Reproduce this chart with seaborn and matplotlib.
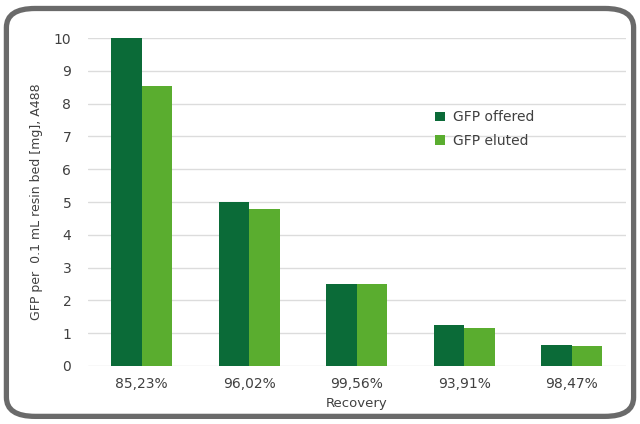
import matplotlib
matplotlib.use("Agg")
import matplotlib.pyplot as plt
import seaborn as sns
import pandas as pd
from matplotlib.patches import FancyBboxPatch, Patch

categories = ["85,23%", "96,02%", "99,56%", "93,91%", "98,47%"]
offered = [10.0, 5.0, 2.5, 1.25, 0.625]
eluted = [8.53, 4.79, 2.49, 1.16, 0.62]
series = ["GFP offered", "GFP eluted"]
colors = ["#0b6b38", "#5aad2f"]

df = pd.DataFrame({
    "Recovery": categories * 2,
    "value": offered + eluted,
    "series": [series[0]] * len(categories) + [series[1]] * len(categories),
})

sns.set_theme(style="white")
plt.rcParams['font.family'] = ['DejaVu Sans']

fig = plt.figure(figsize=(6.4, 4.24), dpi=100)
ax = fig.add_axes([0.1375, 0.137, 0.84, 0.773])

sns.barplot(data=df, x="Recovery", y="value", hue="series", palette=colors,
            width=0.57, saturation=1, ax=ax, legend=False, zorder=3,
            linewidth=0, edgecolor="none")

ax.set_ylim(0, 10)
ax.set_yticks(range(0, 11))
ax.yaxis.grid(True, color="#dcdcdc", linewidth=1, zorder=0)
ax.set_axisbelow(True)
for s in ax.spines.values():
    s.set_visible(False)
ax.tick_params(axis="both", length=0, labelsize=10, colors="#404040")
ax.tick_params(axis="x", pad=8)
ax.tick_params(axis="y", pad=12)
ax.set_xlabel("Recovery", fontsize=9.5, color="#404040", labelpad=4)
ax.set_ylabel("GFP per  0.1 mL resin bed [mg], A488", fontsize=9, color="#404040", labelpad=8)

handles = [Patch(facecolor=c, edgecolor="none") for c in colors]
leg = ax.legend(handles, series, loc="upper left", bbox_to_anchor=(0.622, 0.818),
                frameon=False, fontsize=10, handlelength=0.7, handleheight=0.7,
                handletextpad=0.6, labelspacing=0.7, labelcolor="#404040")

frame = FancyBboxPatch((0.01, 0.018), 0.98, 0.962,
                       boxstyle="round,pad=0,rounding_size=0.045",
                       transform=fig.transFigure, facecolor="none",
                       edgecolor="#6a6a6a", linewidth=3.8, zorder=10)
fig.patches.append(frame)

fig.savefig("out.png", dpi=100)
